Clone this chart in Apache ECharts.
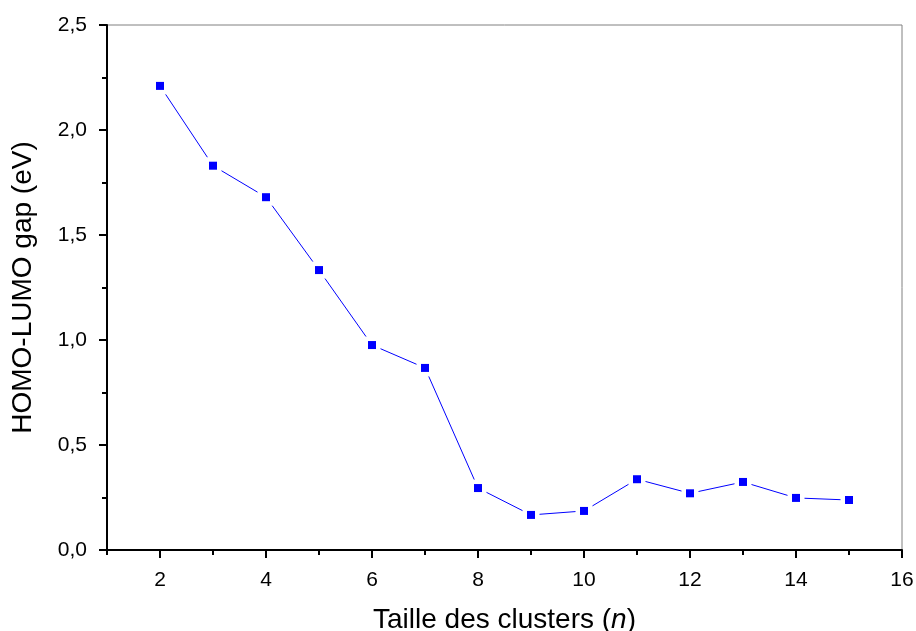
<!DOCTYPE html>
<html><head><meta charset="utf-8">
<script src="https://cdn.jsdelivr.net/npm/echarts@6/dist/echarts.min.js"></script>
<style>html,body{margin:0;padding:0;background:#fff}#c{width:916px;height:631px}</style>
</head><body><div id="c"></div>
<script>
var sizes = [2, 3, 4, 5, 6, 7, 8, 9, 10, 11, 12, 13, 14, 15];
var gaps = [2.21, 1.83, 1.68, 1.333, 0.976, 0.867, 0.295, 0.167, 0.186, 0.337, 0.27, 0.324, 0.248, 0.238];
var xTicks = [2, 4, 6, 8, 10, 12, 14, 16];
var xMinor = [1, 3, 5, 7, 9, 11, 13, 15];
var yTicks = [0, 0.5, 1.0, 1.5, 2.0, 2.5];
var yMinor = [0.25, 0.75, 1.25, 1.75, 2.25];

var pts = sizes.map(function (s, i) { return [s, gaps[i]]; });
var chart = echarts.init(document.getElementById('c'));
var font = "'Liberation Sans', Arial, sans-serif";
var axLine = { show: true, onZero: false, lineStyle: { color: '#000', width: 2 } };
chart.setOption({
  animation: false,
  grid: { left: 107, right: 14, top: 25, bottom: 81, show: true, borderColor: '#808080', borderWidth: 1,
    containLabel: false, outerBoundsMode: 'none' },
  xAxis: [{
    type: 'value', min: 1, max: 16, position: 'bottom',
    name: 'Taille des clusters ({i|n})', nameLocation: 'middle', nameGap: 56,
    nameTextStyle: { fontFamily: font, fontSize: 28, color: '#000', rich: { i: { fontFamily: font, fontSize: 28, fontStyle: 'italic', color: '#000' } } },
    axisLine: axLine,
    axisTick: { show: true, inside: false, length: 8, customValues: xTicks, lineStyle: { color: '#000', width: 2 } },
    splitLine: { show: false },
    axisLabel: { fontFamily: font, fontSize: 21, color: '#000', margin: 20, customValues: xTicks }
  }, {
    type: 'value', min: 1, max: 16, position: 'bottom', offset: 0,
    axisLine: { show: false },
    axisTick: { show: true, inside: false, length: 5, customValues: xMinor, lineStyle: { color: '#000', width: 2 } },
    axisLabel: { show: false }, splitLine: { show: false }
  }],
  yAxis: [{
    type: 'value', min: 0, max: 2.5, position: 'left',
    name: 'HOMO-LUMO gap (eV)', nameLocation: 'middle', nameGap: 70,
    nameTextStyle: { fontFamily: font, fontSize: 28, color: '#000' },
    axisLine: axLine,
    axisTick: { show: true, inside: false, length: 8, customValues: yTicks, lineStyle: { color: '#000', width: 2 } },
    splitLine: { show: false },
    axisLabel: { fontFamily: font, fontSize: 21, color: '#000', margin: 20, customValues: yTicks,
      formatter: function (v) { return v.toFixed(1).replace('.', ','); } }
  }, {
    type: 'value', min: 0, max: 2.5, position: 'left', offset: 0,
    axisLine: { show: false },
    axisTick: { show: true, inside: false, length: 5, customValues: yMinor, lineStyle: { color: '#000', width: 2 } },
    axisLabel: { show: false }, splitLine: { show: false }
  }],
  series: [
    { type: 'line', data: pts, showSymbol: false, symbol: 'none', lineStyle: { color: '#0000FF', width: 1 }, z: 2 },
    { type: 'scatter', data: pts, symbol: 'rect', symbolSize: 17, itemStyle: { color: '#fff', opacity: 1 }, z: 3, silent: true },
    { type: 'scatter', data: pts, symbol: 'rect', symbolSize: 8, itemStyle: { color: '#0000FF', opacity: 1 }, z: 4 }
  ]
});
</script></body></html>
